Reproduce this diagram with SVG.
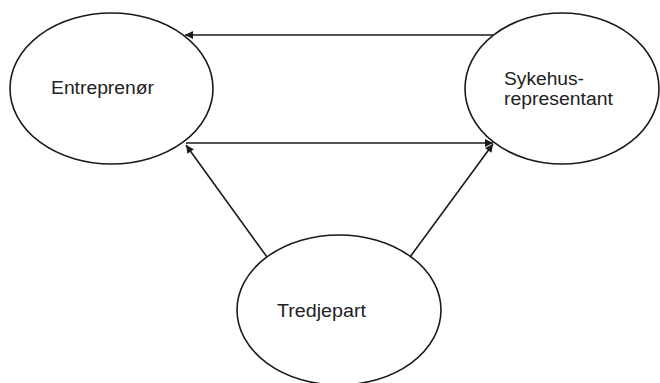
<svg xmlns="http://www.w3.org/2000/svg" width="660" height="383" viewBox="0 0 660 383">
<style>
.node ellipse{fill:#fff;stroke:#1a1a1a;stroke-width:1.6}
.node text{font-family:"Liberation Sans",Arial,sans-serif;font-size:18px;fill:#222}
.edge{stroke:#1a1a1a;stroke-width:1.6;fill:none;marker-end:url(#ah)}
</style>
<defs>
<marker id="ah" viewBox="0 0 10 10" refX="10" refY="5" markerWidth="10" markerHeight="8" markerUnits="userSpaceOnUse" orient="auto">
<path d="M0,0 L10,5 L0,10 z" fill="#1a1a1a"/>
</marker>
</defs>
<rect width="660" height="383" fill="#fff"/>
<g id="n-entreprenor" class="node">
<ellipse cx="111.5" cy="88.5" rx="101.5" ry="75.5"/>
<text x="51" y="94" textLength="103" lengthAdjust="spacingAndGlyphs">Entreprenør</text>
</g>
<g id="n-sykehus" class="node">
<ellipse cx="562" cy="88.5" rx="97" ry="75.5"/>
<text x="504" y="85" textLength="80" lengthAdjust="spacingAndGlyphs">Sykehus-</text>
<text x="504" y="105" textLength="109" lengthAdjust="spacingAndGlyphs">representant</text>
</g>
<g id="n-tredjepart" class="node">
<ellipse cx="339" cy="310" rx="102" ry="75"/>
<text x="277" y="317" textLength="89" lengthAdjust="spacingAndGlyphs">Tredjepart</text>
</g>
<g id="connectors">
<line class="edge" x1="493" y1="35" x2="185" y2="35"/>
<line class="edge" x1="186" y1="143" x2="493" y2="143"/>
<line class="edge" x1="267" y1="257" x2="186" y2="145"/>
<line class="edge" x1="410" y1="257" x2="493" y2="144"/>
</g>
</svg>
